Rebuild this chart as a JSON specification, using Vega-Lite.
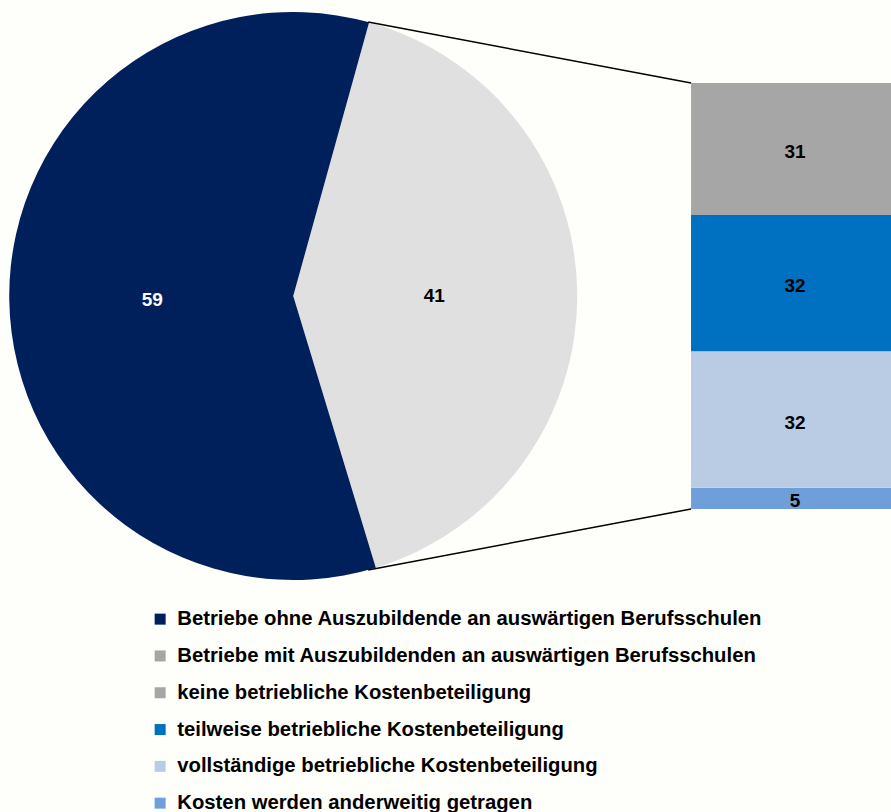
{
  "$schema": "https://vega.github.io/schema/vega-lite/v6.json",
  "width": 891,
  "height": 812,
  "padding": 0,
  "autosize": {"type": "none"},
  "background": "#FEFEFA",
  "config": {
    "view": {"stroke": null},
    "font": "Liberation Sans",
    "legend": {
      "orient": "none",
      "legendX": 150,
      "legendY": 609,
      "title": null,
      "symbolType": "square",
      "symbolSize": 121,
      "symbolStrokeWidth": 0,
      "labelFont": "Liberation Sans",
      "labelFontWeight": "bold",
      "labelFontSize": 20.3,
      "labelColor": "#000000",
      "labelLimit": 0,
      "labelOffset": 7,
      "rowPadding": 15.8
    }
  },
  "datasets": {
    "pie": [
      {"cat": "Betriebe mit Auszubildenden an auswärtigen Berufsschulen", "value": 41},
      {"cat": "Betriebe ohne Auszubildende an auswärtigen Berufsschulen", "value": 59}
    ],
    "bar": [
      {"cat": "Kosten werden anderweitig getragen", "value": 5, "ord": 1},
      {"cat": "vollständige betriebliche Kostenbeteiligung", "value": 32, "ord": 2},
      {"cat": "teilweise betriebliche Kostenbeteiligung", "value": 32, "ord": 3},
      {"cat": "keine betriebliche Kostenbeteiligung", "value": 31, "ord": 4}
    ]
  },
  "encoding": {
    "x": {"type": "quantitative", "scale": {"domain": [-162.25, 46.95], "nice": false, "zero": false}, "axis": null},
    "y": {"type": "quantitative", "scale": {"domain": [-71.13, 119.48], "nice": false, "zero": false}, "axis": null}
  },
  "layer": [
    {
      "data": {"name": "pie"},
      "mark": {"type": "arc", "outerRadius": 284},
      "encoding": {
        "x": {"datum": -93.4, "type": "quantitative"},
        "y": {"datum": 50, "type": "quantitative"},
        "theta": {"field": "value", "type": "quantitative", "stack": true, "scale": {"range": [0.2705, 6.5537]}},
        "fill": {"field": "cat", "type": "nominal", "legend": null,
          "scale": {"domain": ["Betriebe mit Auszubildenden an auswärtigen Berufsschulen", "Betriebe ohne Auszubildende an auswärtigen Berufsschulen"], "range": ["#E0E0E0", "#00205C"]}},
        "order": {"field": "cat"}
      }
    },
    {
      "data": {"name": "pie"},
      "mark": {"type": "text", "radius": 141, "dy": 2, "fontSize": 19, "fontWeight": "bold", "font": "Liberation Sans"},
      "encoding": {
        "x": {"datum": -93.4, "type": "quantitative"},
        "y": {"datum": 50, "type": "quantitative"},
        "theta": {"field": "value", "type": "quantitative", "stack": true, "scale": {"range": [0.2705, 6.5537]}},
        "order": {"field": "cat"},
        "text": {"field": "value", "type": "quantitative"},
        "color": {"condition": {"test": "datum.value == 59", "value": "#FFFFFF"}, "value": "#000000"}
      }
    },
    {
      "data": {"name": "bar"},
      "transform": [
        {"stack": "value", "groupby": [], "sort": [{"field": "ord"}], "as": ["y0", "y1"]}
      ],
      "mark": {"type": "bar"},
      "encoding": {
        "x": {"datum": 0, "type": "quantitative"},
        "x2": {"datum": 46.95},
        "y": {"field": "y0", "type": "quantitative"},
        "y2": {"field": "y1"},
        "color": {"field": "cat", "type": "nominal",
          "scale": {"domain": [
            "Betriebe ohne Auszubildende an auswärtigen Berufsschulen",
            "Betriebe mit Auszubildenden an auswärtigen Berufsschulen",
            "keine betriebliche Kostenbeteiligung",
            "teilweise betriebliche Kostenbeteiligung",
            "vollständige betriebliche Kostenbeteiligung",
            "Kosten werden anderweitig getragen"],
            "range": ["#00205C", "#A6A6A6", "#A6A6A6", "#0070C0", "#B9CCE4", "#6E9FDA"]},
          "sort": null}
      }
    },
    {
      "data": {"name": "bar"},
      "transform": [
        {"stack": "value", "groupby": [], "sort": [{"field": "ord"}], "as": ["y0", "y1"]},
        {"calculate": "(datum.y0 + datum.y1) / 2", "as": "ymid"}
      ],
      "mark": {"type": "text", "dy": 3, "fontSize": 19, "fontWeight": "bold", "font": "Liberation Sans", "color": "#000000"},
      "encoding": {
        "x": {"datum": 24.4, "type": "quantitative"},
        "y": {"field": "ymid", "type": "quantitative"},
        "text": {"field": "value", "type": "quantitative"}
      }
    },
    {
      "data": {"values": [{}]},
      "mark": {"type": "rule", "color": "#000000", "strokeWidth": 1.5},
      "encoding": {
        "x": {"datum": -75.8, "type": "quantitative"},
        "y": {"datum": 114.3, "type": "quantitative"},
        "x2": {"datum": 0},
        "y2": {"datum": 100}
      }
    },
    {
      "data": {"values": [{}]},
      "mark": {"type": "rule", "color": "#000000", "strokeWidth": 1.5},
      "encoding": {
        "x": {"datum": -75.8, "type": "quantitative"},
        "y": {"datum": -14.3, "type": "quantitative"},
        "x2": {"datum": 0},
        "y2": {"datum": 0}
      }
    }
  ]
}
